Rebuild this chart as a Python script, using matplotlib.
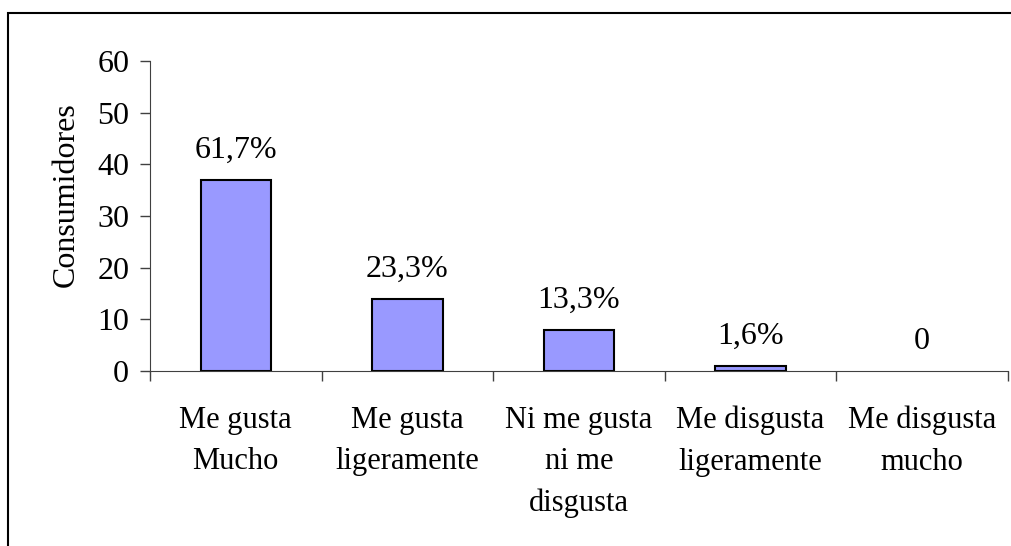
import numpy as np
import matplotlib.pyplot as plt
from matplotlib.patches import Rectangle

categories = ["Me gusta\nMucho", "Me gusta\nligeramente", "Ni me gusta\nni me\ndisgusta",
              "Me disgusta\nligeramente", "Me disgusta\nmucho"]
consumers = [37, 14, 8, 1, 0]
bar_labels = ["61,7%", "23,3%", "13,3%", "1,6%", "0"]

plt.rcParams['font.family'] = ['Liberation Serif', 'DejaVu Serif']
FS = 23

fig = plt.figure(figsize=(10.12, 5.46), dpi=100)
ax = fig.add_axes([150/1012, 175/546, 858/1012, 310/546])

x = np.arange(len(categories))
bars = ax.bar(x, consumers, width=0.41, color="#9999FF", edgecolor="black",
              linewidth=[1.5 if v > 0 else 0 for v in consumers])

for b, lab in zip(bars, bar_labels):
    ax.annotate(lab, (b.get_x() + b.get_width()/2, b.get_height()),
                xytext=(0, 11), textcoords="offset points",
                ha="center", va="bottom", fontsize=FS)

ax.set_xlim(-0.5, len(categories) - 0.5)
ax.set_ylim(0, 60)
ax.set_yticks(range(0, 61, 10))
ax.tick_params(axis="y", labelsize=FS, length=7, width=1, color="#404040", pad=8)

# boundaries get the tick marks, centres get the labels
ax.set_xticks(np.arange(-0.5, len(categories)), labels=[])
ax.set_xticks(x, labels=categories, minor=True)
ax.tick_params(axis="x", which="major", length=7, width=1, color="#404040")
ax.tick_params(axis="x", which="minor", length=0, labelsize=22, pad=25)
for t in ax.get_xticklabels(minor=True):
    t.set_linespacing(1.56)

ax.set_ylabel("Consumidores", fontsize=FS, labelpad=12)
ax.yaxis.label.set_y(0.568)
ax.spines["top"].set_visible(False)
ax.spines["right"].set_visible(False)
ax.spines["left"].set_color("#404040")
ax.spines["bottom"].set_color("#404040")

# chart area border, cut off at right and bottom
fig.add_artist(Rectangle((8/1012, -0.1), 1.1, (546-13)/546 + 0.1, transform=fig.transFigure,
                         fill=False, edgecolor="black", linewidth=1.5))

fig.savefig("out.png", dpi=100)
